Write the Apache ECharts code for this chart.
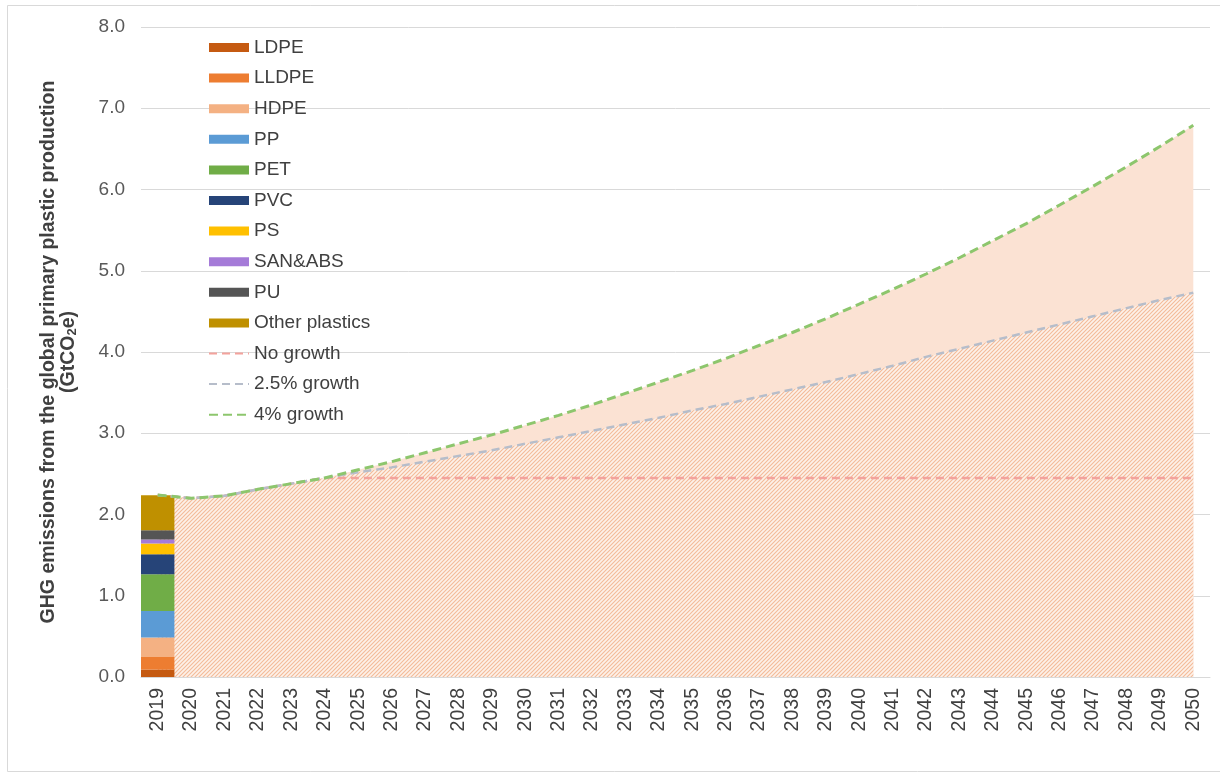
<!DOCTYPE html>
<html>
<head>
<meta charset="utf-8">
<script src="https://cdn.jsdelivr.net/npm/echarts@6/dist/echarts.min.js"></script>
<style>
html,body{margin:0;padding:0;background:#fff;}
#chart{width:1220px;height:773px;}
</style>
</head>
<body>
<div id="chart"></div>
<script>
var years = ['2019','2020','2021','2022','2023','2024','2025','2026','2027','2028','2029','2030','2031','2032','2033','2034','2035','2036','2037','2038','2039','2040','2041','2042','2043','2044','2045','2046','2047','2048','2049','2050'];

// 2019 breakdown by polymer (GtCO2e)
var polymerNames = ['LDPE','LLDPE','HDPE','PP','PET','PVC','PS','SAN&ABS','PU','Other plastics'];
var polymerValues2019 = [0.091, 0.155, 0.239, 0.327, 0.452, 0.246, 0.132, 0.049, 0.114, 0.431];

// scenarios
var noGrowth = [2.24,2.20,2.23,2.31,2.38,2.45,2.45,2.45,2.45,2.45,2.45,2.45,2.45,2.45,2.45,2.45,2.45,2.45,2.45,2.45,2.45,2.45,2.45,2.45,2.45,2.45,2.45,2.45,2.45,2.45,2.45,2.45];
var growth25 = [2.24,2.20,2.23,2.31,2.38,2.45,2.52,2.58,2.65,2.72,2.79,2.87,2.95,3.03,3.11,3.19,3.28,3.36,3.45,3.54,3.63,3.73,3.83,3.94,4.04,4.14,4.24,4.34,4.44,4.54,4.64,4.73];
var growth4 = [2.24,2.20,2.23,2.31,2.38,2.45,2.55,2.65,2.76,2.87,2.98,3.10,3.22,3.35,3.49,3.63,3.77,3.92,4.08,4.24,4.41,4.59,4.77,4.96,5.16,5.37,5.58,5.81,6.04,6.28,6.53,6.79];

var yTicks = [0,1,2,3,4,5,6,7,8];

var polymerColors = ['#c55a11','#ed7d31','#f4b183','#5b9bd5','#70ad47','#264478','#ffc000','#a57bd8','#555555','#bf9000'];

// hatch pattern
var pc = document.createElement('canvas');
pc.width = 4; pc.height = 4;
var g = pc.getContext('2d');
g.fillStyle = '#fdf1e9';
g.fillRect(0,0,4,4);
g.strokeStyle = '#f4ba99';
g.lineWidth = 1.1;
g.beginPath();
g.moveTo(0,4); g.lineTo(4,0);
g.moveTo(-1,1); g.lineTo(1,-1);
g.moveTo(3,5); g.lineTo(5,3);
g.stroke();

var series = [];
// areas
series.push({
  name: 'area4', type: 'line', data: growth4, symbol: 'none', z: 1,
  lineStyle: {width: 0, opacity: 0},
  areaStyle: {color: '#fbe2d3', opacity: 1},
  silent: true
});
series.push({
  name: 'area25', type: 'line', data: growth25, symbol: 'none', z: 2,
  lineStyle: {width: 0, opacity: 0},
  areaStyle: {color: {image: pc, repeat: 'repeat'}, opacity: 1},
  silent: true
});
// stacked bar for 2019
polymerNames.forEach(function(n, i){
  series.push({
    name: n, type: 'bar', stack: 'total', z: 3,
    barWidth: '100%',
    itemStyle: {color: polymerColors[i]},
    data: [polymerValues2019[i]]
  });
});
// scenario lines
series.push({
  name: 'No growth', type: 'line', data: noGrowth, symbol: 'none', z: 4,
  lineStyle: {color: '#f3a29c', width: 2.5, type: [8,5]}, itemStyle: {color: '#f3a29c'}
});
series.push({
  name: '2.5% growth', type: 'line', data: growth25, symbol: 'none', z: 5,
  lineStyle: {color: '#b6bdca', width: 2.5, type: [8,5]}, itemStyle: {color: '#b6bdca'}
});
series.push({
  name: '4% growth', type: 'line', data: growth4, symbol: 'none', z: 6,
  lineStyle: {color: '#8dc66d', width: 3, type: [9,5]}, itemStyle: {color: '#8dc66d'}
});

var legendData = polymerNames.map(function(n){return {name: n, icon: 'rect'};})
  .concat(['No growth','2.5% growth','4% growth'].map(function(n){
    return {name: n, itemStyle: {opacity: 0}};
  }));

var chart = echarts.init(document.getElementById('chart'));
chart.setOption({
  animation: false,
  backgroundColor: '#fff',
  textStyle: {fontFamily: 'Liberation Sans, Arial, sans-serif'},
  graphic: [{
    type: 'rect', silent: true, z: -10,
    shape: {x: 7.5, y: 5.5, width: 1300, height: 766},
    style: {fill: 'none', stroke: '#d9d9d9', lineWidth: 1}
  }],
  grid: {left: 141, right: 10, top: 27, bottom: 96, containLabel: false},
  legend: {
    orient: 'vertical', left: 208, top: 38, padding: 0,
    itemWidth: 40, itemHeight: 9, itemGap: 11.6, itemTextGap: 4,
    textStyle: {fontSize: 19, color: '#404040', lineHeight: 18, fontFamily: 'Liberation Sans, Arial, sans-serif'},
    data: legendData
  },
  xAxis: {
    type: 'category', data: years, boundaryGap: true,
    axisLine: {lineStyle: {color: '#d9d9d9', width: 1}},
    axisTick: {show: false},
    axisLabel: {rotate: 90, fontSize: 19.5, color: '#404040', margin: 11, interval: 0}
  },
  yAxis: {
    type: 'value', min: yTicks[0], max: yTicks[yTicks.length-1], interval: 1,
    axisLine: {show: false}, axisTick: {show: false},
    splitLine: {lineStyle: {color: '#d9d9d9', width: 1}},
    axisLabel: {fontSize: 19, color: '#595959', margin: 16, formatter: function(v){return v.toFixed(1);}},
    name: '{a|GHG emissions from the global primary plastic production}\n{a|(GtCO}{s|2}{a|e)}',
    nameLocation: 'middle', nameGap: 62,
    nameTextStyle: {
      fontSize: 19.5, fontWeight: 'bold', color: '#404040', lineHeight: 20,
      rich: {
        a: {fontSize: 19.5, fontWeight: 'bold', color: '#404040', lineHeight: 20, verticalAlign: 'top'},
        s: {fontSize: 13, fontWeight: 'bold', color: '#404040', lineHeight: 20, verticalAlign: 'top', padding: [7,0,0,0]}
      }
    }
  },
  series: series
});
</script>
</body>
</html>
